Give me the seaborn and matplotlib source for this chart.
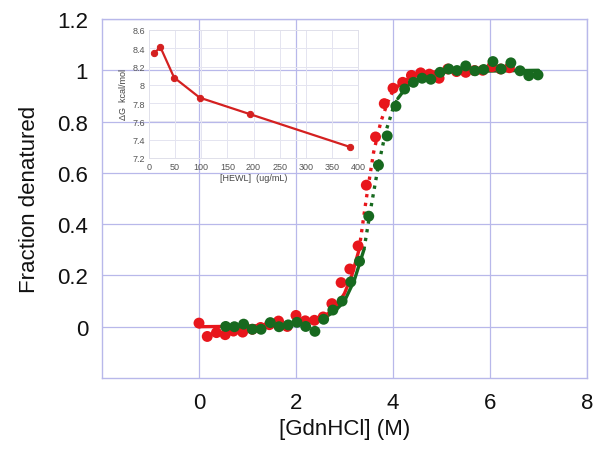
import matplotlib
matplotlib.use("Agg")
import matplotlib.pyplot as plt
import seaborn as sns
import pandas as pd

# ---- main data: fraction denatured vs [GdnHCl] ----
red_x = [0.0, 0.17, 0.36, 0.54, 0.71, 0.90, 1.10, 1.27, 1.45, 1.64, 1.82, 2.00,
         2.19, 2.38, 2.56, 2.74, 2.93, 3.11, 3.28, 3.45, 3.64, 3.82, 4.00, 4.20,
         4.38, 4.57, 4.75, 4.95, 5.13, 5.31, 5.50, 5.68, 5.85, 6.04, 6.22, 6.40]
red_y = [0.014, -0.038, -0.023, -0.031, -0.017, -0.021, -0.010, -0.003, 0.008, 0.022,
         0.001, 0.044, 0.023, 0.025, 0.038, 0.090, 0.172, 0.225, 0.315, 0.552, 0.740,
         0.870, 0.930, 0.953, 0.980, 0.990, 0.985, 0.969, 1.005, 0.995, 0.992, 0.999,
         1.000, 1.014, 1.005, 1.010]

green_x = [0.55, 0.73, 0.92, 1.10, 1.28, 1.47, 1.65, 1.84, 2.02, 2.20, 2.39, 2.57,
           2.76, 2.95, 3.13, 3.31, 3.50, 3.70, 3.88, 4.06, 4.24, 4.42, 4.60, 4.78,
           4.97, 5.15, 5.32, 5.50, 5.69, 5.87, 6.06, 6.23, 6.43, 6.62, 6.80, 6.99]
green_y = [0.001, 0.000, 0.010, -0.010, -0.010, 0.016, 0.000, 0.007, 0.017, 0.001,
           -0.018, 0.029, 0.065, 0.100, 0.175, 0.255, 0.431, 0.630, 0.744, 0.860,
           0.927, 0.953, 0.969, 0.965, 0.992, 1.005, 0.999, 1.017, 0.998, 1.003,
           1.034, 1.005, 1.029, 0.998, 0.979, 0.982]

# fitted curves (solid baseline / dotted transition / solid plateau)
red_fit_lo_x = [0.0, 1.0, 2.0, 2.5, 2.8, 3.0, 3.15, 3.3]
red_fit_lo_y = [0.0, 0.002, 0.010, 0.030, 0.070, 0.130, 0.200, 0.300]
red_fit_mid_x = [3.3, 3.45, 3.6, 3.75, 3.9, 4.0]
red_fit_mid_y = [0.300, 0.500, 0.680, 0.800, 0.880, 0.920]
red_fit_hi_x = [4.0, 4.2, 4.4, 4.7, 5.0, 6.5]
red_fit_hi_y = [0.920, 0.955, 0.975, 0.990, 0.997, 1.000]

green_fit_lo_x = [0.55, 1.5, 2.0, 2.5, 2.8, 3.0, 3.2, 3.4]
green_fit_lo_y = [0.0, 0.002, 0.010, 0.025, 0.060, 0.100, 0.180, 0.300]
green_fit_mid_x = [3.4, 3.55, 3.7, 3.85, 4.0, 4.1]
green_fit_mid_y = [0.300, 0.470, 0.630, 0.760, 0.850, 0.890]
green_fit_hi_x = [4.1, 4.3, 4.5, 4.8, 5.2, 7.0]
green_fit_hi_y = [0.890, 0.940, 0.965, 0.985, 0.995, 1.000]

x_ticks = [0, 2, 4, 6, 8]
y_ticks = [0, 0.2, 0.4, 0.6, 0.8, 1.0, 1.2]
y_tick_labels = ["0", "0.2", "0.4", "0.6", "0.8", "1", "1.2"]

# ---- inset data: dG vs [HEWL] ----
hewl = [10, 22, 48, 97, 193, 385]
dG = [8.35, 8.41, 8.08, 7.86, 7.68, 7.32]
inset_x_ticks = [0, 50, 100, 150, 200, 250, 300, 350, 400]
inset_y_ticks = [7.2, 7.4, 7.6, 7.8, 8.0, 8.2, 8.4, 8.6]
inset_y_labels = ["7.2", "7.4", "7.6", "7.8", "8", "8.2", "8.4", "8.6"]

RED = "#e8161c"
GREEN = "#17691f"
GRID = "#b8b8ea"

sns.set_theme(style="white")
plt.rcParams["font.family"] = ["Liberation Sans", "DejaVu Sans"]

fig = plt.figure(figsize=(6.01, 4.52), dpi=100)
ax = fig.add_axes([102 / 601, 1 - 379 / 452, (587 - 102) / 601, (379 - 20) / 452])

for xs, ys, ls in [(red_fit_lo_x, red_fit_lo_y, "-"), (red_fit_mid_x, red_fit_mid_y, ":"),
                   (red_fit_hi_x, red_fit_hi_y, "-")]:
    sns.lineplot(x=xs, y=ys, ax=ax, color=RED, lw=2.4, linestyle=ls, sort=False, zorder=3)
for xs, ys, ls in [(green_fit_lo_x, green_fit_lo_y, "-"), (green_fit_mid_x, green_fit_mid_y, ":"),
                   (green_fit_hi_x, green_fit_hi_y, "-")]:
    sns.lineplot(x=xs, y=ys, ax=ax, color=GREEN, lw=2.4, linestyle=ls, sort=False, zorder=3)

sns.scatterplot(x=red_x, y=red_y, ax=ax, color=RED, s=62, edgecolor="none", zorder=4)
sns.scatterplot(x=green_x, y=green_y, ax=ax, color=GREEN, s=62, edgecolor="none", zorder=5)

ax.set_xlim(-2, 8)
ax.set_ylim(-0.2, 1.2)
ax.set_xticks(x_ticks)
ax.set_yticks(y_ticks)
ax.set_yticklabels(y_tick_labels)
ax.tick_params(axis="both", labelsize=16, length=4, color=GRID, direction="in", pad=10,
               labelcolor="#111111")
ax.grid(True, color=GRID, lw=0.9)
ax.set_axisbelow(True)
for sp in ax.spines.values():
    sp.set_color(GRID)
    sp.set_linewidth(1.0)
ax.set_xlabel("[GdnHCl] (M)", fontsize=16, labelpad=4, color="#111111")
ax.set_ylabel("Fraction denatured", fontsize=16, labelpad=12, color="#111111")

# inset
ins = fig.add_axes([149 / 601, 1 - 159 / 452, (358 - 149) / 601, (159 - 31) / 452])
ins.set_facecolor("none")
sns.lineplot(x=hewl, y=dG, ax=ins, color="#d42020", lw=1.6, marker="o", markersize=4.5,
             markeredgecolor="#d42020", sort=False)
ins.set_xlim(0, 400)
ins.set_ylim(7.2, 8.6)
ins.set_xticks(inset_x_ticks)
ins.set_yticks(inset_y_ticks)
ins.set_yticklabels(inset_y_labels)
ins.tick_params(axis="both", labelsize=6.5, length=0, pad=3, labelcolor="#555555")
ins.grid(True, color="#e4e4f0", lw=0.7)
for sp in ins.spines.values():
    sp.set_color("#e0e0ea")
    sp.set_linewidth(0.7)
ins.set_xlabel("[HEWL]  (ug/mL)", fontsize=6.5, color="#444444", labelpad=1)
ins.set_ylabel("\u0394G  kcal/mol", fontsize=6.5, color="#444444", labelpad=3)

fig.savefig("out.png", dpi=100)
